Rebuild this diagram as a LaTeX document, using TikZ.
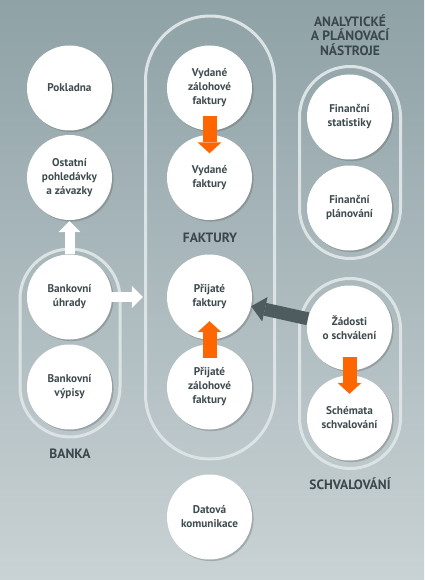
\documentclass[tikz,border=0pt]{standalone}
\usepackage{fontspec}
\setmainfont{PT Sans}
\usetikzlibrary{arrows.meta,shadows,calc}
\definecolor{bgtop}{HTML}{8FA2A6}
\definecolor{bgbot}{HTML}{C9D2D5}
\definecolor{pillc}{HTML}{DCE3E5}
\definecolor{txt}{HTML}{3E4B4F}
\definecolor{lbl}{HTML}{3B474B}
\definecolor{orng}{HTML}{FF6600}
\definecolor{darkarr}{HTML}{4E5C60}
\begin{document}
\begin{tikzpicture}[x=1pt,y=-1pt,
  bubble/.style={circle,fill=white,minimum size=85pt,inner sep=0pt,align=center,
    font=\bfseries\fontsize{11.2}{14}\selectfont,text=txt,
    drop shadow={shadow xshift=1.6pt,shadow yshift=-1.6pt,opacity=0.28,fill=black!70}},
  pill/.style={draw=pillc,line width=3pt,inner sep=0pt},
  grplabel/.style={font=\bfseries\fontsize{13.5}{14.5}\selectfont,text=lbl,align=center},
  orangearrow/.style={draw=orng,line width=14pt,-{Triangle[length=11pt,width=24pt,line width=0pt]}},
  whitearrow/.style={draw=white,line width=10pt,-{Triangle[length=11pt,width=22pt,line width=0pt]}},
  darkarrow/.style={draw=darkarr,line width=13pt,-{Triangle[length=14pt,width=25pt,line width=0pt]}}]
\useasboundingbox (0,0) rectangle (424,580);
\fill[top color=bgtop,bottom color=bgbot] (0,0) rectangle (424,580);
% containers
\node[pill,minimum width=100pt,minimum height=188pt,rounded corners=50pt] (pbanka) at (70,343) {};
\node[pill,minimum width=129pt,minimum height=443pt,rounded corners=64.5pt] (pfakt) at (210,237.5) {};
\node[pill,minimum width=101pt,minimum height=192pt,rounded corners=50.5pt] (panal) at (350,162.5) {};
\node[pill,minimum width=101pt,minimum height=190pt,rounded corners=50.5pt] (pschv) at (350,373.5) {};
% labels
\node[grplabel] (lbanka) at (70,454) {BANKA};
\node[grplabel] (lfakt) at (210,238) {FAKTURY};
\node[grplabel] (lanal) at (350,35) {ANALYTICKÉ\\A PLÁNOVACÍ\\NÁSTROJE};
\node[grplabel] (lschv) at (350,484) {SCHVALOVÁNÍ};
% bubbles
\node[bubble] (pok) at (69.5,88) {Pokladna};
\node[bubble] (opz) at (69.5,177.5) {Ostatní\\pohledávky\\a závazky};
\node[bubble] (bu) at (69.5,297) {Bankovní\\úhrady};
\node[bubble] (bv) at (69.5,387) {Bankovní\\výpisy};
\node[bubble] (vza) at (209.5,88) {Vydané\\zálohové\\faktury};
\node[bubble] (vf) at (209.5,177.5) {Vydané\\faktury};
\node[bubble] (pf) at (209.5,297) {Přijaté\\faktury};
\node[bubble] (pzf) at (209.5,387) {Přijaté\\zálohové\\faktury};
\node[bubble] (dk) at (209.5,517) {Datová\\komunikace};
\node[bubble] (fs) at (349.5,117) {Finanční\\statistiky};
\node[bubble] (fp) at (349.5,208) {Finanční\\plánování};
\node[bubble] (zad) at (349.5,328) {Žádosti\\o schválení};
\node[bubble] (sch) at (349.5,418) {Schémata\\schvalování};
% connectors
\draw[orangearrow] ($(vza.south)+(0,-14.5)$) -- ($(vf.north)+(0,18.5)$);
\draw[orangearrow] ($(pzf.north)+(0,13.5)$) -- ($(pf.south)+(0,-18.5)$);
\draw[orangearrow] ($(zad.south)+(0,-13.5)$) -- ($(sch.north)+(0,18.5)$);
\draw[whitearrow] (bu.north) -- ($(opz.south)+(0,1)$);
\draw[whitearrow] (bu.east) -- ($(pf.west)+(-24,0)$);
\draw[darkarrow] (zad) -- (pf);
\end{tikzpicture}
\end{document}
